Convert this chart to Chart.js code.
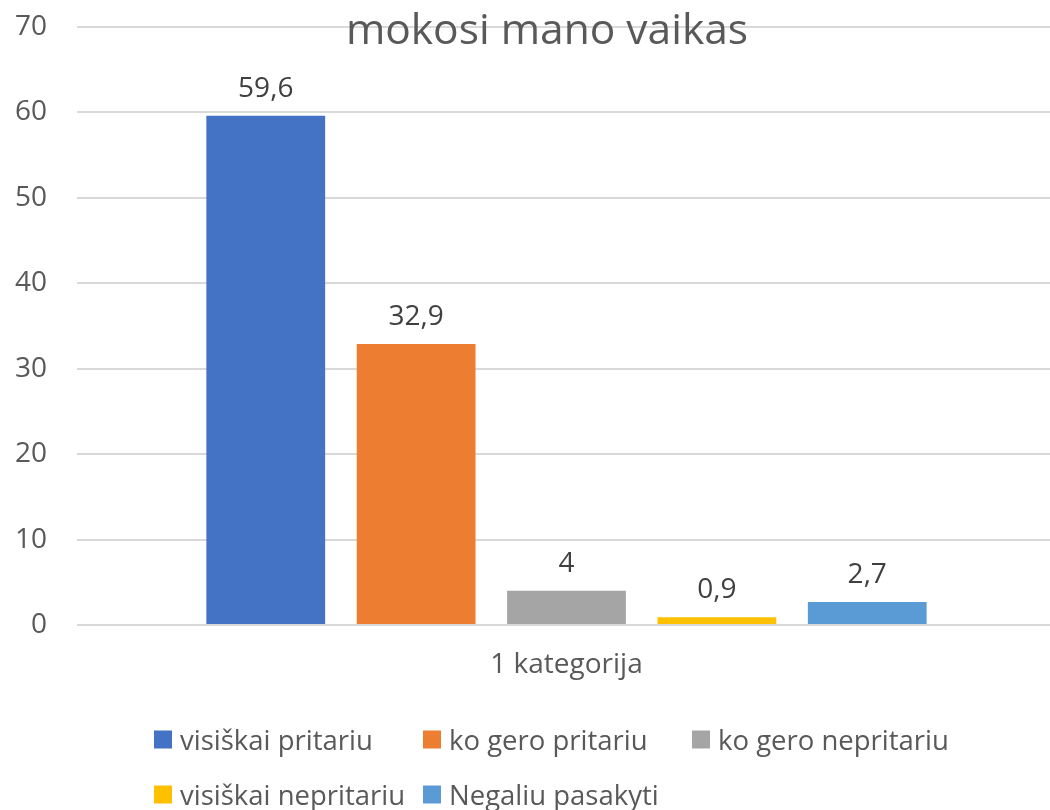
<!DOCTYPE html>
<html>
<head>
  <meta charset="utf-8">
  <style>
    html, body {
        margin: 0;
        padding: 0;
        background: #fff;
        overflow: hidden;
    }

    #wrap {
        position: relative;
        width: 1060px;
        height: 810px;
    }

    #legend {
        position: absolute;
        left: 0;
        top: 0;
        width: 1050px;
        height: 810px;
        pointer-events: none;
        font-family: "Open Sans", sans-serif;
        font-size: 27.5px;
        color: #595959;
    }

    .leg-item {
        position: absolute;
        display: flex;
        align-items: center;
        white-space: nowrap;
        transform: translateY(-50%);
    }

    .leg-box {
        width: 18px;
        height: 18px;
        margin-right: 8px;
    }
  </style>
</head>
<body>
<div id="wrap">
  <canvas id="chart" width="1060" height="810"></canvas>
  <div id="legend"></div>
</div>

<script src="https://cdn.jsdelivr.net/npm/chart.js"></script>
<script>
// data
const categories = ['1 kategorija'];
const seriesNames = ['visiškai pritariu', 'ko gero pritariu', 'ko gero nepritariu', 'visiškai nepritariu', 'Negaliu pasakyti'];
const seriesValues = [59.6, 32.9, 4, 0.9, 2.7];
const seriesColors = ['#4472C4', '#ED7D31', '#A5A5A5', '#FFC000', '#5B9BD5'];
const yTicks = [0, 10, 20, 30, 40, 50, 60, 70];
const chartTitle = 'mokosi mano vaikas';

const FONT = '"Open Sans", sans-serif';
const TEXT = '#595959';

// legend layout (two rows, three columns, like the office legend)
const legendCols = [154, 423, 692];
const legendRows = [739, 794];

const datasets = seriesNames.map((name, i) => ({
    label: name,
    data: [seriesValues[i]],
    backgroundColor: seriesColors[i],
    borderWidth: 0,
    categoryPercentage: 0.768,
    barPercentage: 0.79,
}));

// title drawn over the top gridline
const titlePlugin = {
    id: 'titlePlugin',
    afterDraw(chart) {
        const ctx = chart.ctx;
        ctx.save();
        ctx.font = '42.5px ' + FONT;
        ctx.fillStyle = TEXT;
        ctx.textAlign = 'center';
        ctx.textBaseline = 'middle';
        ctx.fillText(chartTitle, 547, 32);
        ctx.restore();
    }
};

// value labels above bars, decimal comma
const valueLabels = {
    id: 'valueLabels',
    afterDatasetsDraw(chart) {
        const ctx = chart.ctx;
        ctx.save();
        ctx.font = '28px ' + FONT;
        ctx.fillStyle = '#404040';
        ctx.textAlign = 'center';
        ctx.textBaseline = 'bottom';
        chart.data.datasets.forEach((ds, i) => {
            const meta = chart.getDatasetMeta(i);
            meta.data.forEach((bar, j) => {
                const txt = String(ds.data[j]).replace('.', ',');
                ctx.fillText(txt, bar.x, bar.y - 13);
            });
        });
        ctx.restore();
    }
};

const ctx = document.getElementById('chart').getContext('2d');
const chart = new Chart(ctx, {
    type: 'bar',
    data: {
        labels: categories,
        datasets: datasets,
    },
    options: {
        responsive: false,
        animation: false,
        layout: {
            padding: { top: 27, right: 4, left: 0, bottom: 0 }
        },
        scales: {
            x: {
                grid: { display: false, drawTicks: false },
                border: { display: false },
                ticks: {
                    color: TEXT,
                    font: { family: FONT, size: 28 },
                    padding: 23,
                },
                afterFit(scale) { scale.height = 185; },
            },
            y: {
                min: 0,
                max: 70,
                afterBuildTicks(scale) {
                    scale.ticks = yTicks.map(v => ({ value: v }));
                },
                grid: {
                    color: '#d9d9d9',
                    lineWidth: 2,
                    drawTicks: true,
                    tickLength: 30,
                    tickColor: 'rgba(0,0,0,0)',
                },
                border: { display: false },
                ticks: {
                    color: TEXT,
                    font: { family: FONT, size: 28 },
                    padding: 0,
                },
                afterFit(scale) { scale.width = 77; },
            },
        },
        plugins: {
            legend: { display: false },
            tooltip: { enabled: false },
            title: { display: false },
        },
    },
    plugins: [titlePlugin, valueLabels],
});

// html legend built from the datasets
const legendEl = document.getElementById('legend');
chart.data.datasets.forEach((ds, i) => {
    const item = document.createElement('div');
    item.className = 'leg-item';
    item.style.left = legendCols[i % 3] + 'px';
    item.style.top = legendRows[Math.floor(i / 3)] + 'px';
    const box = document.createElement('span');
    box.className = 'leg-box';
    box.style.background = ds.backgroundColor;
    const label = document.createElement('span');
    label.textContent = ds.label;
    item.appendChild(box);
    item.appendChild(label);
    legendEl.appendChild(item);
});
</script>
</body>
</html>
